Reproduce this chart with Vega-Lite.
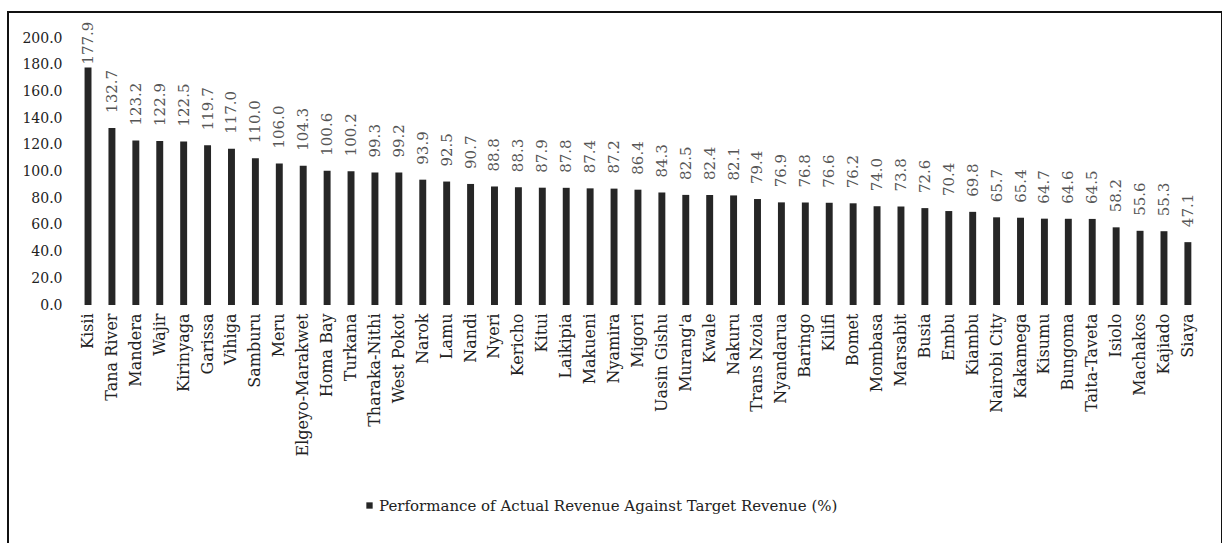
{
  "$schema": "https://vega.github.io/schema/vega-lite/v6.json",
  "autosize": "none",
  "width": 1214,
  "height": 540,
  "padding": {"left": 8, "top": 12, "right": 0, "bottom": 0},
  "background": "white",
  "config": {
    "view": {"stroke": "#111", "strokeWidth": 2},
    "font": "DejaVu Serif"
  },
  "data": {
    "values": [
      {"county": "Kisii", "value": 177.9},
      {"county": "Tana River", "value": 132.7},
      {"county": "Mandera", "value": 123.2},
      {"county": "Wajir", "value": 122.9},
      {"county": "Kirinyaga", "value": 122.5},
      {"county": "Garissa", "value": 119.7},
      {"county": "Vihiga", "value": 117.0},
      {"county": "Samburu", "value": 110.0},
      {"county": "Meru", "value": 106.0},
      {"county": "Elgeyo-Marakwet", "value": 104.3},
      {"county": "Homa Bay", "value": 100.6},
      {"county": "Turkana", "value": 100.2},
      {"county": "Tharaka-Nithi", "value": 99.3},
      {"county": "West Pokot", "value": 99.2},
      {"county": "Narok", "value": 93.9},
      {"county": "Lamu", "value": 92.5},
      {"county": "Nandi", "value": 90.7},
      {"county": "Nyeri", "value": 88.8},
      {"county": "Kericho", "value": 88.3},
      {"county": "Kitui", "value": 87.9},
      {"county": "Laikipia", "value": 87.8},
      {"county": "Makueni", "value": 87.4},
      {"county": "Nyamira", "value": 87.2},
      {"county": "Migori", "value": 86.4},
      {"county": "Uasin Gishu", "value": 84.3},
      {"county": "Murang'a", "value": 82.5},
      {"county": "Kwale", "value": 82.4},
      {"county": "Nakuru", "value": 82.1},
      {"county": "Trans Nzoia", "value": 79.4},
      {"county": "Nyandarua", "value": 76.9},
      {"county": "Baringo", "value": 76.8},
      {"county": "Kilifi", "value": 76.6},
      {"county": "Bomet", "value": 76.2},
      {"county": "Mombasa", "value": 74.0},
      {"county": "Marsabit", "value": 73.8},
      {"county": "Busia", "value": 72.6},
      {"county": "Embu", "value": 70.4},
      {"county": "Kiambu", "value": 69.8},
      {"county": "Nairobi City", "value": 65.7},
      {"county": "Kakamega", "value": 65.4},
      {"county": "Kisumu", "value": 64.7},
      {"county": "Bungoma", "value": 64.6},
      {"county": "Taita-Taveta", "value": 64.5},
      {"county": "Isiolo", "value": 58.2},
      {"county": "Machakos", "value": 55.6},
      {"county": "Kajiado", "value": 55.3},
      {"county": "Siaya", "value": 47.1}
    ]
  },
  "encoding": {
    "x": {
      "field": "county",
      "type": "nominal",
      "sort": null,
      "scale": {"paddingInner": 0.71, "paddingOuter": 0.5, "range": [64.6, 1195.3]},
      "axis": {
        "title": null,
        "orient": "bottom",
        "offset": -247,
        "domain": false,
        "ticks": false,
        "labelAngle": -90,
        "labelPadding": 8,
        "labelFont": "DejaVu Serif",
        "labelFontSize": 16,
        "labelColor": "#222"
      }
    },
    "y": {
      "field": "value",
      "type": "quantitative",
      "scale": {"domain": [-185, 219.5], "nice": false, "zero": false},
      "axis": {
        "title": null,
        "offset": -58,
        "domain": false,
        "ticks": false,
        "grid": false,
        "values": [0, 20, 40, 60, 80, 100, 120, 140, 160, 180, 200],
        "format": ".1f",
        "labelPadding": 4,
        "labelFont": "DejaVu Serif",
        "labelFontSize": 14,
        "labelColor": "#222"
      }
    }
  },
  "layer": [
    {
      "mark": {"type": "bar", "fill": "#262626"},
      "encoding": {
        "y2": {"datum": 0},
        "color": {
          "datum": "Performance of Actual Revenue Against Target Revenue (%)",
          "scale": {"range": ["#262626"]},
          "legend": {
            "title": null,
            "orient": "none",
            "legendX": 354,
            "legendY": 486,
            "symbolType": "square",
            "symbolSize": 40,
            "symbolStrokeWidth": 0,
            "labelFont": "DejaVu Serif",
            "labelFontSize": 15,
            "labelLimit": 0,
            "labelColor": "#222",
            "labelOffset": 2
          }
        }
      }
    },
    {
      "transform": [{"filter": "datum.value < 150"}],
      "mark": {
        "type": "text",
        "angle": 270,
        "align": "left",
        "baseline": "middle",
        "dx": 15,
        "font": "DejaVu Serif",
        "fontSize": 15,
        "fill": "#555"
      },
      "encoding": {
        "text": {"field": "value", "type": "quantitative", "format": ".1f"}
      }
    },
    {
      "transform": [{"filter": "datum.value >= 150"}],
      "mark": {
        "type": "text",
        "angle": 270,
        "align": "left",
        "baseline": "middle",
        "dx": 3,
        "font": "DejaVu Serif",
        "fontSize": 15,
        "fill": "#555"
      },
      "encoding": {
        "text": {"field": "value", "type": "quantitative", "format": ".1f"}
      }
    }
  ]
}
